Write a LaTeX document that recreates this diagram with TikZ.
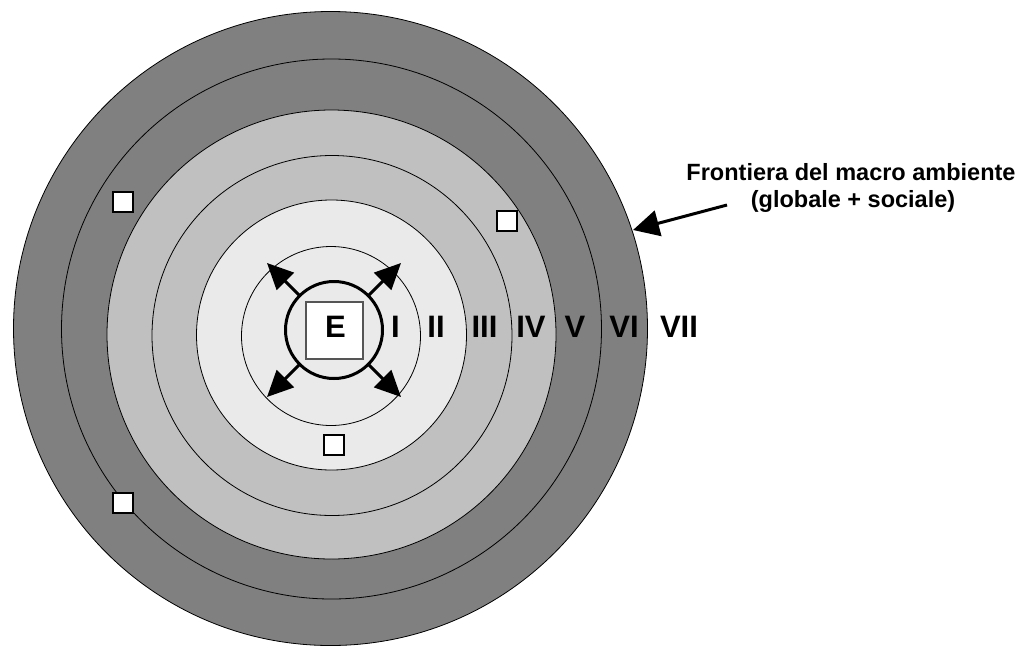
\documentclass[tikz,border=0pt]{standalone}
\usepackage{fontspec}
\setmainfont{Liberation Sans}
\usetikzlibrary{arrows.meta}
\definecolor{darkring}{HTML}{808080}
\definecolor{midring}{HTML}{C0C0C0}
\definecolor{lightring}{HTML}{EAEAEA}
\definecolor{boxedge}{HTML}{555555}
\begin{document}
\begin{tikzpicture}[x=1pt,y=-1pt,
  ring/.style={draw=black,line width=0.8pt},
  roman/.style={font=\fontsize{31}{37}\selectfont\bfseries,inner sep=0pt,anchor=base},
  caption/.style={font=\fontsize{23.5}{27}\selectfont\bfseries,inner sep=0pt,anchor=base},
  marker/.style={draw=black,line width=1.3pt,fill=white,minimum size=20pt,inner sep=0pt},
  outarrow/.style={line width=3pt,-{Triangle[length=26pt,width=24pt]}},
  bigarrow/.style={line width=3pt,-{Triangle[length=26pt,width=26pt]}}]
\useasboundingbox (0,0) rectangle (1030,646);
% rings
\filldraw[ring,fill=darkring] (330.5,328.5) circle[radius=317pt];
\filldraw[ring,fill=darkring] (331.5,329) circle[radius=270pt];
\filldraw[ring,fill=midring] (331.5,334.5) circle[radius=224.5pt];
\filldraw[ring,fill=midring] (332,335.5) circle[radius=180pt];
\filldraw[ring,fill=lightring] (331.5,335) circle[radius=135pt];
\filldraw[ring,fill=lightring] (331,336) circle[radius=89.5pt];
\filldraw[line width=3pt,draw=black,fill=lightring] (334,330) circle[radius=48.5pt];
% centre box
\node[draw=boxedge,line width=2pt,fill=white,minimum size=57pt,inner sep=0pt] (ebox) at (334,330.5) {};
\node[roman] (E) at (335.5,337) {E};
% arrows from the centre
\coordinate (t1) at (299.7,295.7); \coordinate (h1) at (267,263);
\coordinate (t2) at (368.3,295.7); \coordinate (h2) at (401,263);
\coordinate (t3) at (299.7,364.3); \coordinate (h3) at (267,397);
\coordinate (t4) at (368.3,364.3); \coordinate (h4) at (401,397);
\draw[outarrow] (t1) -- (h1);
\draw[outarrow] (t2) -- (h2);
\draw[outarrow] (t3) -- (h3);
\draw[outarrow] (t4) -- (h4);
% ring labels
\node[roman] (r1) at (395.5,337) {I};
\node[roman] (r2) at (436,337) {II};
\node[roman] (r3) at (484.5,337) {III};
\node[roman] (r4) at (531,337) {IV};
\node[roman] (r5) at (575,337) {V};
\node[roman] (r6) at (624,337) {VI};
\node[roman] (r7) at (679,337) {VII};
% small squares
\node[marker] (s1) at (123,202) {};
\node[marker] (s2) at (507,221) {};
\node[marker] (s3) at (123,503) {};
\node[marker] (s4) at (334,445) {};
% caption and pointer
\node[caption] (cap1) at (851,180) {Frontiera del macro ambiente};
\node[caption] (cap2) at (853,207) {(globale + sociale)};
\coordinate (ptail) at (727,205);
\coordinate (ptip) at (633,230);
\draw[bigarrow] (ptail) -- (ptip);
\end{tikzpicture}
\end{document}
